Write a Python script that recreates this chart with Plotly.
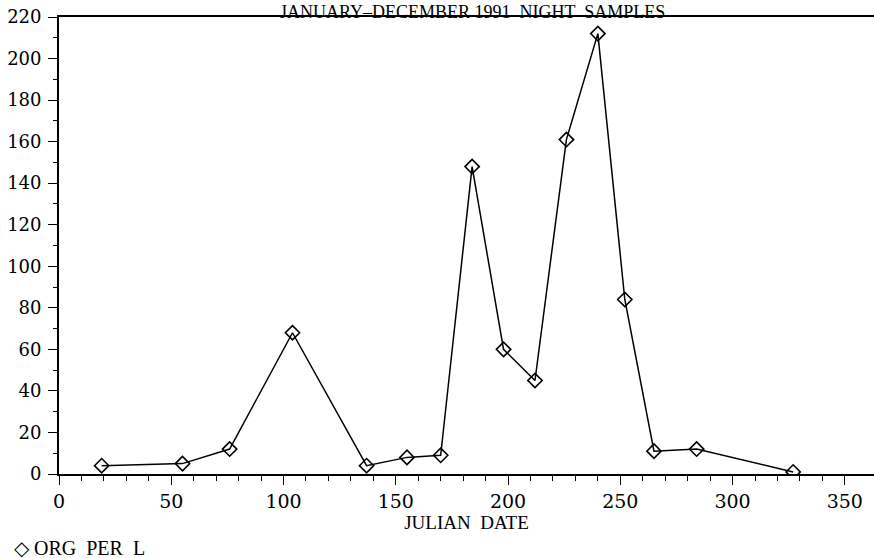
import plotly.graph_objects as go

julian_date = [19, 55, 76, 104, 137, 155, 170, 184, 198, 212, 226, 240, 252, 265, 284, 327]
org_per_l = [4, 5, 12, 68, 4, 8, 9, 148, 60, 45, 161, 212, 84, 11, 12, 1]

x_major_ticks = [0, 50, 100, 150, 200, 250, 300, 350]
x_minor_ticks = list(range(0, 351, 10))
y_major_ticks = list(range(0, 221, 20))

title_text = "JANUARY\u2013DECEMBER 1991  NIGHT  SAMPLES"
x_title = "JULIAN  DATE"
legend_text = "\u25c7 ORG  PER  L"

fig = go.Figure()
fig.add_trace(go.Scatter(
    x=julian_date, y=org_per_l, mode="lines+markers",
    line=dict(color="black", width=1.5),
    marker=dict(symbol="diamond-open", size=11, color="black", line=dict(width=1.6)),
    showlegend=False,
))

fig.update_xaxes(
    range=[0, 363], tickvals=x_major_ticks,
    showline=True, linecolor="black", linewidth=1.8, mirror=True,
    ticks="outside", tickcolor="black", ticklen=9, tickwidth=1.3,
    showgrid=False, zeroline=False,
    minor=dict(tickvals=x_minor_ticks, ticks="outside", ticklen=5, tickcolor="black", tickwidth=1.1),
    tickfont=dict(family="DejaVu Serif", size=19, color="black"),
    title=dict(text=x_title, font=dict(family="Liberation Serif", size=19, color="black"), standoff=5),
)
fig.update_yaxes(
    range=[0, 220], tickvals=y_major_ticks,
    showline=True, linecolor="black", linewidth=1.8, mirror=False,
    ticks="outside", tickcolor="black", ticklen=9, tickwidth=1.3,
    showgrid=False, zeroline=False,
    minor=dict(dtick=10, tick0=0, ticks="outside", ticklen=4, tickcolor="black", tickwidth=1.1),
    tickfont=dict(family="DejaVu Serif", size=18, color="black"),
    ticklabelstandoff=3,
)

fig.add_annotation(
    text=title_text, xref="paper", yref="paper", x=0.507, y=1.0372, yanchor="top",
    showarrow=False,
    font=dict(family="Liberation Serif", size=18, color="black"),
)
fig.add_annotation(
    text=legend_text, xref="paper", yref="paper", x=-0.058, xanchor="left",
    y=-0.162, yanchor="middle", showarrow=False,
    font=dict(family="Liberation Serif", size=20, color="black"),
)

fig.update_layout(
    width=874, height=558,
    margin=dict(l=59, r=0, t=17, b=84),
    paper_bgcolor="white", plot_bgcolor="white",
)

fig.write_html("out.html")
